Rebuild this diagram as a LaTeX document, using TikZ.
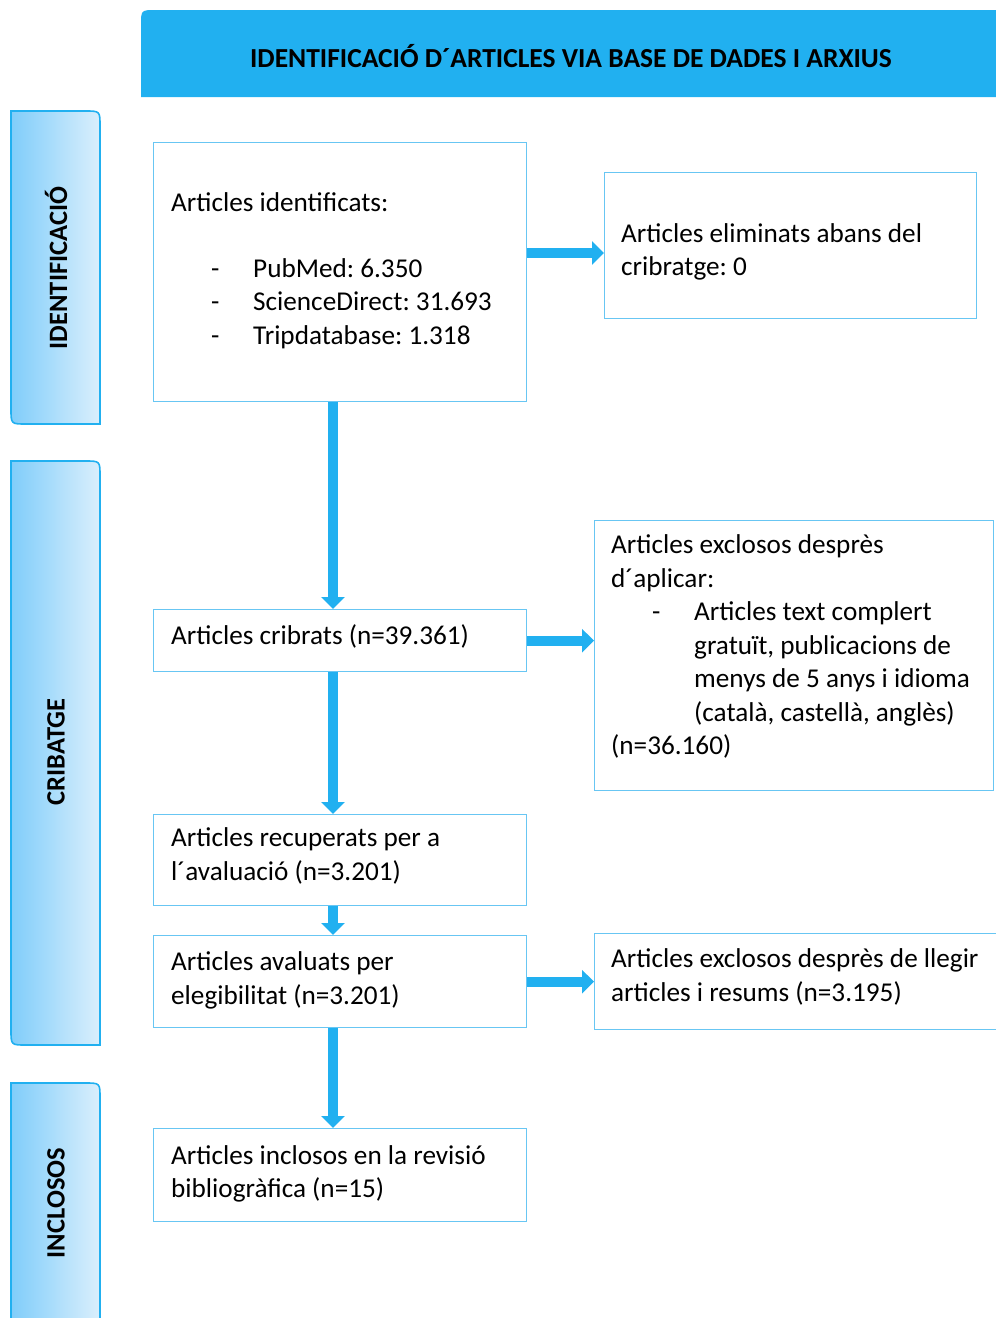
\documentclass[tikz,border=0pt]{standalone}
\usepackage{fontspec}
\setmainfont{Carlito}
\usetikzlibrary{arrows.meta}
\definecolor{hdr}{RGB}{33,176,240}
\definecolor{bx}{RGB}{104,198,243}
\definecolor{tabL}{RGB}{128,205,250}
\definecolor{tabR}{RGB}{218,239,252}
\frenchspacing
\begin{document}
\begin{tikzpicture}[x=1pt,y=-1pt,
  box/.style={draw=bx,line width=1.3pt,inner sep=0,anchor=north west},
  txt/.style={anchor=base west,inner sep=0,font=\fontsize{27.2}{33}\selectfont},
  arr/.style={draw=hdr,line width=10pt,-{Triangle[width=23pt,length=12pt]}},
  tab/.style={draw=hdr,line width=1.6pt,left color=tabL,right color=tabR},
  tabtxt/.style={rotate=90,font=\fontsize{26.5}{30}\selectfont\bfseries,inner sep=0}]
\useasboundingbox (0,0) rectangle (996,1318);

% header
\path[fill=hdr] (141,97) -- (141,25) .. controls (141,10) .. (156,10) -- (1012,10) -- (1012,97) -- cycle;
\node[font=\bfseries\fontsize{27.5}{30}\selectfont,inner sep=0] (head) at (571,56) {IDENTIFICACIÓ D´ARTICLES VIA BASE DE DADES I ARXIUS};

% side tabs
\path[tab] (11,111) -- (85,111) .. controls (100,111) .. (100,126) -- (100,424) -- (26,424) .. controls (11,424) .. (11,409) -- cycle;
\node[tabtxt] (t1) at (56,268) {IDENTIFICACIÓ};
\path[tab] (11,461) -- (85,461) .. controls (100,461) .. (100,476) -- (100,1045) -- (26,1045) .. controls (11,1045) .. (11,1030) -- cycle;
\node[tabtxt] (t2) at (56,752) {CRIBATGE};
\path[tab] (11,1083) -- (85,1083) .. controls (100,1083) .. (100,1098) -- (100,1330) -- (26,1330) .. controls (11,1330) .. (11,1315) -- cycle;
\node[tabtxt] (t3) at (56,1203) {INCLOSOS};

% boxes
\node[box,minimum width=373pt,minimum height=259pt] (b1) at (153,142) {};
\node[box,minimum width=372pt,minimum height=146pt] (b2) at (604,172) {};
\node[box,minimum width=373pt,minimum height=62pt] (b3) at (153,609) {};
\node[box,minimum width=399pt,minimum height=270pt] (b4) at (594,520) {};
\node[box,minimum width=373pt,minimum height=91pt] (b5) at (153,814) {};
\node[box,minimum width=373pt,minimum height=92pt] (b6) at (153,935) {};
\node[box,minimum width=420pt,minimum height=96pt] (b7) at (594,933) {};
\node[box,minimum width=373pt,minimum height=93pt] (b8) at (153,1128) {};

% texts
\node[txt] at (171,211) {Articles identificats:};
\node[txt] at (211,277) {-};
\node[txt] at (253,277) {PubMed: 6.350};
\node[txt] at (211,310) {-};
\node[txt] at (253,310) {ScienceDirect: 31.693};
\node[txt] at (211,344) {-};
\node[txt] at (253,344) {Tripdatabase: 1.318};

\node[txt] at (621,242) {Articles eliminats abans del};
\node[txt] at (621,275) {cribratge: 0};

\node[txt] at (171,644) {Articles cribrats (n=39.361)};

\node[txt] at (611,553) {Articles exclosos desprès};
\node[txt] at (611,587) {d´aplicar:};
\node[txt] at (652,620) {-};
\node[txt] at (694,620) {Articles text complert};
\node[txt] at (694,654) {gratuït, publicacions de};
\node[txt] at (694,687) {menys de 5 anys i idioma};
\node[txt] at (694,721) {(català, castellà, anglès)};
\node[txt] at (611,754) {(n=36.160)};

\node[txt] at (171,846) {Articles recuperats per a};
\node[txt] at (171,880) {l´avaluació (n=3.201)};

\node[txt] at (171,970) {Articles avaluats per};
\node[txt] at (171,1004) {elegibilitat (n=3.201)};

\node[txt] at (611,967) {Articles exclosos desprès de llegir};
\node[txt] at (611,1001) {articles i resums (n=3.195)};

\node[txt] at (171,1164) {Articles inclosos en la revisió};
\node[txt] at (171,1197) {bibliogràfica (n=15)};

% arrows
\draw[arr] (b1.east |- 0,253) -- (b2.west |- 0,253);
\draw[arr] (b3.east) -- (b4.west |- b3.east);
\draw[arr] (b6.east) -- (b7.west |- b6.east);
\draw[arr] (b1.south -| 333,0) -- (b3.north -| 333,0);
\draw[arr] (b3.south -| 333,0) -- (b5.north -| 333,0);
\draw[arr] (b5.south -| 333,0) -- (b6.north -| 333,0);
\draw[arr] (b6.south -| 333,0) -- (b8.north -| 333,0);
\end{tikzpicture}
\end{document}
